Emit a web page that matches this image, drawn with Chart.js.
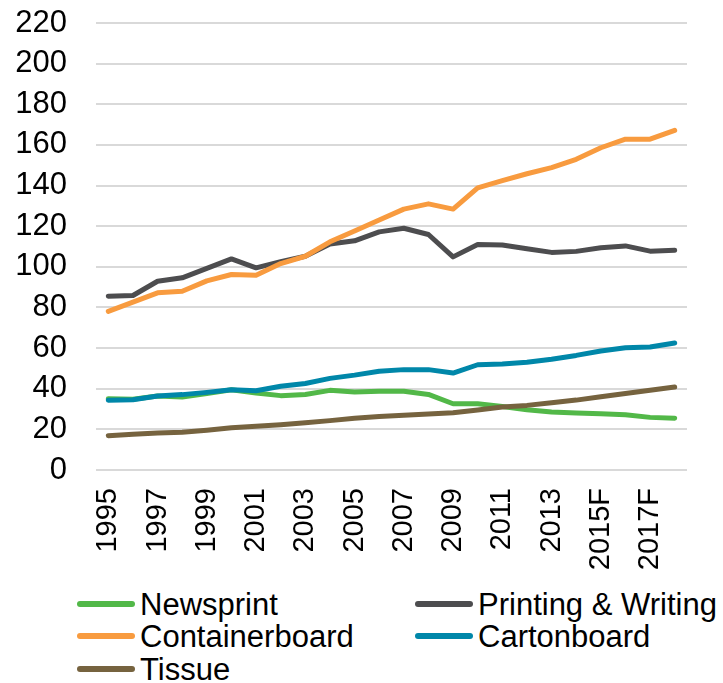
<!DOCTYPE html>
<html>
<head>
<meta charset="utf-8">
<script src="https://cdn.jsdelivr.net/npm/chart.js@4/dist/chart.umd.min.js"></script>
<style>
  html, body { margin: 0; padding: 0; background: #fff; }
  #wrap { position: relative; width: 723px; height: 683px; font-family: "Liberation Sans", Arial, sans-serif; }
  #c { position: absolute; left: 0; top: 0; }
  .leg { position: absolute; display: flex; align-items: center; font-size: 31px; color: #000; white-space: nowrap; line-height: 1; }
  .sw { display: inline-block; width: 58px; height: 6px; border-radius: 3px; margin-right: 5px; }
</style>
</head>
<body>
<div id="wrap">
  <canvas id="c" width="723" height="585"></canvas>
  <div id="legend"></div>
</div>
<script>
const categories = ['1995','1996','1997','1998','1999','2000','2001','2002','2003','2004','2005','2006','2007','2008','2009','2010','2011','2012','2013','2014','2015F','2016F','2017F','2018F'];
const newsprint = [35.1, 34.8, 36.4, 35.9, 37.6, 39.5, 37.9, 36.6, 37.2, 39.2, 38.4, 38.7, 38.8, 37.2, 32.6, 32.6, 31.3, 29.7, 28.5, 28.0, 27.7, 27.2, 25.9, 25.5];
const printingWriting = [85.5, 85.9, 92.9, 94.6, 99.2, 103.9, 99.5, 102.5, 105.2, 111.2, 112.8, 117.2, 119.0, 115.9, 104.9, 111.0, 110.7, 108.9, 107.1, 107.6, 109.4, 110.3, 107.7, 108.2];
const containerboard = [78.1, 82.6, 87.2, 88.0, 93.1, 96.2, 95.9, 101.6, 105.2, 112.3, 117.6, 123.0, 128.4, 131.0, 128.4, 138.9, 142.4, 145.8, 148.8, 152.9, 158.6, 162.8, 162.8, 167.2];
const cartonboard = [34.3, 34.6, 36.4, 37.1, 38.2, 39.5, 39.0, 41.2, 42.6, 45.1, 46.7, 48.6, 49.4, 49.4, 47.7, 51.8, 52.2, 53.0, 54.5, 56.4, 58.6, 60.2, 60.5, 62.5];
const tissue = [16.9, 17.6, 18.2, 18.6, 19.6, 20.8, 21.5, 22.3, 23.3, 24.3, 25.5, 26.3, 27.0, 27.6, 28.2, 29.5, 31.0, 31.8, 33.1, 34.4, 36.1, 37.6, 39.2, 40.8];
const seriesNames = ['Newsprint', 'Printing & Writing', 'Containerboard', 'Cartonboard', 'Tissue'];
const yTicks = [0, 20, 40, 60, 80, 100, 120, 140, 160, 180, 200, 220];

const colors = ['#52b848', '#4d4d4f', '#f89b3f', '#0087a9', '#76633f'];
const seriesData = [newsprint, printingWriting, containerboard, cartonboard, tissue];

const datasets = seriesNames.map((n, i) => ({
  label: n,
  data: seriesData[i],
  borderColor: colors[i],
  backgroundColor: colors[i],
  borderWidth: 5,
  pointRadius: 0,
  tension: 0,
  borderCapStyle: 'round',
  borderJoinStyle: 'round',
  fill: false,
  order: seriesNames.length - i
}));

new Chart(document.getElementById('c'), {
  type: 'line',
  data: { labels: categories, datasets },
  options: {
    responsive: false,
    animation: false,
    devicePixelRatio: 1,
    layout: { padding: { top: 23, right: 36, left: 0, bottom: 0 } },
    plugins: { legend: { display: false }, tooltip: { enabled: false } },
    scales: {
      x: {
        offset: true,
        grid: { display: false, drawTicks: false },
        border: { display: false },
        ticks: {
          autoSkip: false,
          maxRotation: 90,
          minRotation: 90,
          padding: 18,
          color: '#000',
          font: { family: '"Liberation Sans", Arial, sans-serif', size: 29 },
          callback: function (v, i) { return i % 2 === 0 ? categories[i] : ''; }
        },
        afterFit: function (s) { s.height = 115; s.paddingLeft = 0; s.paddingRight = 0; }
      },
      y: {
        min: 0,
        max: 220,
        afterBuildTicks: function (s) { s.ticks = yTicks.map(v => ({ value: v })); },
        grid: { color: '#d9d9d9', lineWidth: 2, drawTicks: false },
        border: { display: false },
        ticks: {
          padding: 29,
          color: '#000',
          font: { family: '"Liberation Sans", Arial, sans-serif', size: 31 }
        },
        afterFit: function (s) { s.width = 96; s.paddingTop = 0; s.paddingBottom = 0; }
      }
    }
  }
});

// HTML legend in two columns
const legPos = [
  { x: 77, y: 604 }, { x: 415, y: 604 },
  { x: 77, y: 636 }, { x: 415, y: 636 },
  { x: 77, y: 669 }
];
const legend = document.getElementById('legend');
seriesNames.forEach((n, i) => {
  const d = document.createElement('div');
  d.className = 'leg';
  d.style.left = legPos[i].x + 'px';
  d.style.top = (legPos[i].y - 15) + 'px';
  d.style.height = '30px';
  const sw = document.createElement('span');
  sw.className = 'sw';
  sw.style.background = colors[i];
  const t = document.createElement('span');
  t.textContent = n;
  d.appendChild(sw);
  d.appendChild(t);
  legend.appendChild(d);
});
</script>
</body>
</html>
